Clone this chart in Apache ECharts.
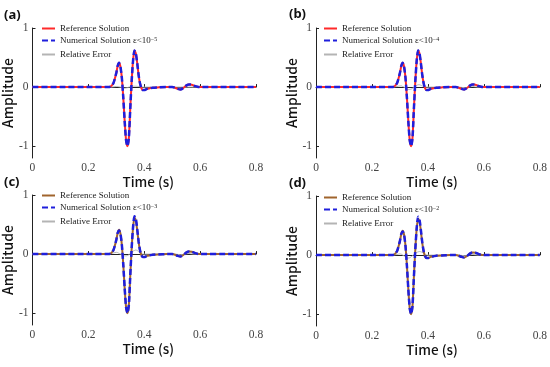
<!DOCTYPE html>
<html><head><meta charset="utf-8">
<script src="https://cdn.jsdelivr.net/npm/echarts@6/dist/echarts.min.js"></script>
<style>html,body{margin:0;padding:0;background:#fff}#c{width:550px;height:367px}</style>
</head><body><div id="c"></div>
<script>
const time = [0,0.1,0.2,0.27,0.28,0.29,0.3,0.305,0.31,0.315,0.32,0.325,0.33,0.335,0.34,0.345,0.35,0.355,0.36,0.365,0.37,0.375,0.38,0.385,0.39,0.395,0.4,0.41,0.42,0.43,0.45,0.48,0.5,0.51,0.52,0.53,0.54,0.55,0.56,0.57,0.58,0.59,0.6,0.7,0.8];
const refSol = [0,0,0,0,0.01,0.07,0.24,0.36,0.41,0.34,0.15,-0.18,-0.58,-0.9,-1.0,-0.86,-0.36,0.1,0.45,0.62,0.57,0.4,0.2,0.06,-0.02,-0.05,-0.05,-0.03,-0.02,-0.01,-0.005,0,0,-0.01,-0.03,-0.04,-0.015,0.025,0.045,0.04,0.02,0.005,0,0,0];
const numA = [0,0,0,0,0.01,0.07,0.24,0.36,0.41,0.34,0.15,-0.18,-0.58,-0.9,-1.0,-0.86,-0.36,0.1,0.45,0.62,0.57,0.4,0.2,0.06,-0.02,-0.05,-0.05,-0.03,-0.02,-0.01,-0.005,0,0,-0.01,-0.03,-0.04,-0.015,0.025,0.045,0.04,0.02,0.005,0,0,0];
const numB = [0,0,0,0,0.01,0.07,0.24,0.36,0.41,0.34,0.15,-0.18,-0.58,-0.9,-1.0,-0.86,-0.36,0.1,0.45,0.62,0.57,0.4,0.2,0.06,-0.02,-0.05,-0.05,-0.03,-0.02,-0.01,-0.005,0,0,-0.01,-0.03,-0.04,-0.015,0.025,0.045,0.04,0.02,0.005,0,0,0];
const numC = [0,0,0,0,0.01,0.07,0.24,0.36,0.40,0.34,0.15,-0.18,-0.58,-0.9,-1.0,-0.86,-0.36,0.1,0.46,0.64,0.6,0.42,0.21,0.06,-0.02,-0.05,-0.05,-0.03,-0.02,-0.01,-0.005,0,0,-0.01,-0.03,-0.04,-0.015,0.025,0.045,0.04,0.02,0.005,0,0,0];
const numD = [0,0,0,0,0.01,0.07,0.24,0.36,0.40,0.34,0.15,-0.18,-0.58,-0.9,-1.0,-0.86,-0.36,0.1,0.46,0.65,0.6,0.42,0.21,0.06,-0.02,-0.05,-0.05,-0.03,-0.02,-0.01,-0.005,0,0,-0.01,-0.03,-0.04,-0.015,0.025,0.045,0.04,0.02,0.005,0,0,0];
const errA = [0,0,0,0,0,0.005,0.01,0.01,0.005,0,-0.01,-0.02,-0.02,-0.015,-0.01,0,0.005,0.01,0.015,0.015,0.015,0.012,0.01,0.005,0,0,0,0,0,0,0,0,0,0,0,0,0,0,0,0,0,0,0,0,0];
const errB = [0,0,0,0,0.005,0.01,0.02,0.02,0.01,0,-0.02,-0.03,-0.04,-0.04,-0.035,-0.02,0,0.02,0.03,0.04,0.04,0.03,0.02,0.01,0,0,0,0,0,0,0,0,0,0,-0.005,-0.01,-0.005,0.005,0.01,0.005,0,0,0,0,0];
const errC = [0,0,0,0,0.01,0.02,0.03,0.025,0.01,0,-0.01,-0.02,-0.03,-0.03,-0.025,-0.01,0.01,0.03,0.05,0.06,0.07,0.06,0.04,0.02,0.01,0,0,0,0,0,0,0,0,0,-0.005,-0.01,-0.005,0.005,0.01,0.005,0,0,0,0,0];
const errD = [0,0,0,0,0.005,0.01,0.02,0.015,0,-0.015,-0.03,-0.045,-0.05,-0.045,-0.03,-0.01,0.01,0.03,0.045,0.055,0.06,0.055,0.045,0.03,0.015,0.005,0,0,0,0,0,0,0,0,-0.005,-0.01,-0.005,0.005,0.01,0.005,0,0,0,0,0];
const xTicks = [0,0.2,0.4,0.6,0.8];
const yTicks = [-1,0,1];
const panelLabels = ['(a)','(b)','(c)','(d)'];
const epsExp = ['\u22125','\u22124','\u22123','\u22122'];
const nums = [numA,numB,numC,numD];
const errs = [errA,errB,errC,errD];

const layout = [
  {left:32, top:28, lx:4, ly:9, legL:41, legT:24},
  {left:316, top:28, lx:289, ly:8, legL:323, legT:24},
  {left:32, top:195, lx:4, ly:176, legL:41, legT:191},
  {left:316, top:196, lx:289, ly:177, legL:323, legT:193}
];
const refColors = ['#ff2a2a','#ff2a2a','#a0642d','#a0642d'];
const blue = '#1f1fdc';
const gray = '#b4b4b4';
const W = 224, H = 130;
const pair = a => time.map((t,i)=>[t,a[i]]);
const titleFont = {fontFamily:'"Noto Sans CJK SC", "Noto Sans"', fontWeight:500, color:'#111'};

const grid=[], xAxis=[], yAxis=[], series=[], legend=[], graphic=[];
const nameMap = {};
layout.forEach((L,k)=>{
  grid.push({left:L.left, top:L.top, width:W, height:H});
  xAxis.push({type:'value', gridIndex:k, min:0, max:0.8, interval:0.2,
    axisLine:{lineStyle:{color:'#222',width:1}},
    axisTick:{inside:true,length:3,lineStyle:{color:'#222'}},
    splitLine:{show:false},
    axisLabel:{color:'#444',fontFamily:'Liberation Serif',fontSize:11.5,margin:4,
      formatter:v=>String(+v.toFixed(1))},
    name:'Time (s)', nameLocation:'middle', nameGap:16,
    nameTextStyle:Object.assign({fontSize:13.5,padding:[0,0,0,8]}, titleFont)
  });
  yAxis.push({type:'value', gridIndex:k, min:-1.2, max:1,
    axisLine:{show:true,lineStyle:{color:'#222',width:1}},
    axisTick:{show:true,inside:true,length:3,customValues:yTicks,lineStyle:{color:'#222'}},
    splitLine:{show:false},
    axisLabel:{color:'#444',fontFamily:'Liberation Serif',fontSize:11.5,margin:4,customValues:yTicks},
    name:'Amplitude', nameLocation:'middle', nameGap:12, nameRotate:90,
    nameTextStyle:Object.assign({fontSize:14}, titleFont)
  });
  const rn='ref'+k, nn='num'+k, en='err'+k;
  nameMap[rn]='Reference Solution';
  nameMap[nn]='Numerical Solution \u03b5<10{sup|'+epsExp[k]+'}';
  nameMap[en]='Relative Error';
  series.push({type:'line', name:en, xAxisIndex:k, yAxisIndex:k, data:pair(errs[k]), symbol:'none', smooth:0.2, z:1,
    lineStyle:{color:gray,width:1}, itemStyle:{color:gray}});
  series.push({type:'line', name:rn, xAxisIndex:k, yAxisIndex:k, data:pair(refSol), symbol:'none', smooth:0.2, z:2,
    lineStyle:{color:refColors[k],width:2}, itemStyle:{color:refColors[k]}});
  series.push({type:'line', name:nn, xAxisIndex:k, yAxisIndex:k, data:pair(nums[k]), symbol:'none', smooth:0.2, z:3,
    lineStyle:{color:blue,width:2.5,type:[6,3]}, itemStyle:{color:blue}});
  legend.push({left:L.legL, top:L.legT, orient:'vertical', itemWidth:13, itemHeight:8, itemGap:3,
    data:[rn,nn,en], selectedMode:false, padding:0,
    itemStyle:{opacity:0, borderWidth:0},
    formatter:n=>nameMap[n],
    textStyle:{fontFamily:'Liberation Serif',fontSize:9,color:'#222',
      rich:{sup:{fontSize:6,verticalAlign:'top',lineHeight:6,padding:[0,0,5,0]}}}
  });
  graphic.push({type:'text', left:L.lx, top:L.ly, style:{text:panelLabels[k], font:'bold 13px "Noto Sans"', fill:'#111'}});
});

const chart = echarts.init(document.getElementById('c'), null, {renderer:'canvas'});
chart.setOption({animation:false, grid, xAxis, yAxis, series, legend, graphic});
</script></body></html>
